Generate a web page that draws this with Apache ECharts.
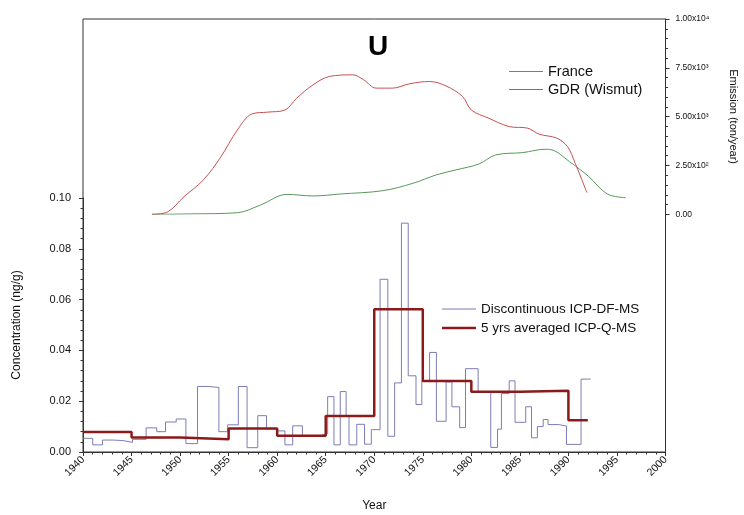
<!DOCTYPE html>
<html>
<head>
<meta charset="utf-8">
<script src="https://cdn.jsdelivr.net/npm/echarts@6/dist/echarts.min.js"></script>
<style>
html,body{margin:0;padding:0;background:#fff;}
#chart{width:744px;height:515px;}
</style>
</head>
<body>
<div id="chart"></div>
<script>
// ---- Data ----
// Discontinuous ICP-DF-MS: step segments [start year, concentration ng/g]
const discYears = [1940.0,1941.0,1942.0,1943.1,1944.1,1945.1,1946.5,1947.6,1948.5,1949.6,1950.6,1951.8,1952.9,1954.0,1954.9,1956.0,1956.9,1958.0,1958.9,1960.0,1960.8,1961.6,1962.6,1964.5,1965.2,1965.85,1966.5,1967.1,1967.4,1968.2,1969.0,1969.7,1970.6,1971.4,1972.1,1972.8,1973.5,1974.3,1974.9,1975.7,1976.4,1977.4,1978.0,1978.8,1979.4,1980.7,1982.0,1982.7,1983.1,1983.9,1984.5,1985.6,1986.2,1986.8,1987.4,1987.9,1989.0,1989.8,1991.3,1992.3];
const discValues = [0.0054,0.0028,0.0047,0.0045,0.0038,0.0050,0.0095,0.0080,0.0118,0.0130,0.0033,0.0258,0.0254,0.0080,0.0107,0.0258,0.0017,0.0143,0.0091,0.0083,0.0028,0.0103,0.0065,0.0072,0.0218,0.0028,0.0238,0.0142,0.0028,0.0109,0.0031,0.0088,0.0680,0.0062,0.0272,0.0901,0.0300,0.0187,0.0280,0.0392,0.0121,0.0276,0.0178,0.0096,0.0328,0.0236,0.0018,0.0090,0.0230,0.0280,0.0117,0.0178,0.0056,0.0100,0.0128,0.0108,0.0102,0.0030,0.0287,0.0287];
// 5 yrs averaged ICP-Q-MS
const avgYears = [1940,1945,1950,1955,1960,1965,1970,1975,1980,1985,1990,1992];
const avgValues = [0.0079,0.0057,0.0050,0.0093,0.0064,0.0142,0.0562,0.0280,0.0237,0.0241,0.0125,0.0125];
// Emissions (ton/year)
const franceYears = [1947.1,1951.1,1955.9,1958.3,1961.0,1963.7,1966.5,1970.9,1974.0,1976.4,1978.4,1980.8,1982.5,1985.3,1987.6,1988.3,1990.1,1992.1,1994.0,1995.9];
const franceValues = [0,20,80,480,1020,940,1040,1210,1590,2020,2270,2580,3040,3160,3330,3300,2700,1930,1040,850];
const gdrYears = [1947.1,1948.7,1950.4,1952.4,1954.2,1955.9,1957.4,1959.0,1960.8,1962.0,1963.7,1965.4,1967.8,1968.9,1970.2,1971.9,1973.6,1975.7,1977.4,1979.1,1980.0,1981.8,1983.9,1985.8,1987.0,1988.8,1989.9,1990.7,1991.9];
const gdrValues = [0,120,900,1760,2940,4320,5140,5230,5340,5940,6630,7060,7140,6890,6460,6460,6680,6800,6570,6030,5340,4920,4490,4410,4100,3900,3470,2610,1110];
// Tick labels
const concTickLabels = ['0.00','0.02','0.04','0.06','0.08','0.10'];
const emissionTickLabels = ['0.00','2.50x10\u00b2','5.00x10\u00b3','7.50x10\u00b3','1.00x10\u2074'];

const zip = (xs, ys) => xs.map((x, i) => [x, ys[i]]);

const chart = echarts.init(document.getElementById('chart'), null, {renderer: 'canvas'});
const FONT = 'Liberation Sans, Arial, sans-serif';
const L = 83, R = 78.5;
const C_FR = '#55995a', C_GDR = '#c45252', C_DISC = '#7c7cb8', C_AVG = '#8b1a1a';

function lineLegend(name, left, top, color, thick, fontSize) {
  return {
    data: [{name: name, icon: 'rect', itemStyle: {color: color}}],
    left: left, top: top, padding: 0, itemWidth: 34, itemHeight: thick, itemGap: 5,
    selectedMode: false,
    textStyle: {fontSize: fontSize, color: '#111', fontFamily: FONT}
  };
}

const option = {
  backgroundColor: '#fff',
  animation: false,
  textStyle: {fontFamily: FONT},
  title: {
    text: 'U', left: 373, top: 28, textAlign: 'center',
    textStyle: {fontSize: 28, fontWeight: 'bold', color: '#000', fontFamily: FONT}
  },
  grid: [
    {left: L, right: R, top: 198, bottom: 515 - 452, containLabel: false, outerBoundsMode: 'none'},
    {left: L, right: R, top: 19, height: 195.3, containLabel: false, outerBoundsMode: 'none'},
    {left: L, right: R, top: 19, bottom: 515 - 452, containLabel: false, outerBoundsMode: 'none',
     show: true, borderColor: '#333', borderWidth: 1, backgroundColor: 'transparent'}
  ],
  legend: [
    lineLegend('France', 509, 64, C_FR, 1, 14.5),
    lineLegend('GDR (Wismut)', 509, 82, C_GDR, 1, 14.5),
    lineLegend('Discontinuous ICP-DF-MS', 442, 302, C_DISC, 1, 13.5),
    lineLegend('5 yrs averaged ICP-Q-MS', 442, 321, C_AVG, 2.5, 13.5)
  ],
  xAxis: [
    {
      gridIndex: 0, type: 'value', min: 1940, max: 2000, interval: 5,
      name: 'Year', nameLocation: 'middle', nameGap: 48,
      nameTextStyle: {fontSize: 12, color: '#111', fontFamily: FONT},
      axisLine: {lineStyle: {color: '#333', width: 1}},
      axisTick: {inside: false, length: 4, lineStyle: {color: '#333'}},
      minorTick: {show: true, splitNumber: 5, length: 2.5, lineStyle: {color: '#333'}},
      splitLine: {show: false},
      axisLabel: {rotate: 45, fontSize: 10.5, color: '#111', margin: 6, fontFamily: FONT,
        formatter: v => String(v)}
    },
    {gridIndex: 1, type: 'value', min: 1940, max: 2000, show: false, splitLine: {show: false}},
    {gridIndex: 2, type: 'value', min: 0, max: 1, show: false, splitLine: {show: false}}
  ],
  yAxis: [
    {
      gridIndex: 0, type: 'value', min: 0, max: 0.1, interval: 0.02,
      name: 'Concentration (ng/g)', nameLocation: 'middle', nameGap: 60, nameRotate: 90,
      nameTextStyle: {fontSize: 12, color: '#111', fontFamily: FONT},
      axisLine: {show: true, lineStyle: {color: '#333', width: 1}},
      axisTick: {show: true, inside: false, length: 4, lineStyle: {color: '#333'}},
      minorTick: {show: true, splitNumber: 5, length: 2.5, lineStyle: {color: '#333'}},
      splitLine: {show: false},
      axisLabel: {fontSize: 11, color: '#111', margin: 12, fontFamily: FONT,
        formatter: v => concTickLabels[Math.round(v / 0.02)]}
    },
    {
      gridIndex: 1, type: 'value', position: 'right', min: 0, max: 10000, interval: 2500,
      name: 'Emission (ton/year)', nameLocation: 'middle', nameGap: 62, nameRotate: -90,
      nameTextStyle: {fontSize: 11, color: '#111', fontFamily: FONT},
      axisLine: {show: true, onZero: false, lineStyle: {color: '#333', width: 1}},
      axisTick: {show: true, inside: false, length: 4, lineStyle: {color: '#333'}},
      minorTick: {show: true, splitNumber: 5, length: 2.5, lineStyle: {color: '#333'}},
      splitLine: {show: false},
      axisLabel: {fontSize: 8.5, color: '#111', margin: 10, fontFamily: FONT,
        formatter: v => emissionTickLabels[Math.round(v / 2500)]}
    },
    {gridIndex: 2, type: 'value', min: 0, max: 1, show: false, splitLine: {show: false}}
  ],
  series: [
    {
      name: 'France', type: 'line', xAxisIndex: 1, yAxisIndex: 1,
      data: zip(franceYears, franceValues), smooth: 0.35, symbol: 'none',
      lineStyle: {color: C_FR, width: 1}, itemStyle: {color: C_FR}, z: 3
    },
    {
      name: 'GDR (Wismut)', type: 'line', xAxisIndex: 1, yAxisIndex: 1,
      data: zip(gdrYears, gdrValues), smooth: 0.35, symbol: 'none',
      lineStyle: {color: C_GDR, width: 1}, itemStyle: {color: C_GDR}, z: 3
    },
    {
      name: 'Discontinuous ICP-DF-MS', type: 'line', xAxisIndex: 0, yAxisIndex: 0,
      data: zip(discYears, discValues), step: 'end', symbol: 'none',
      lineStyle: {color: C_DISC, width: 1}, itemStyle: {color: C_DISC}, z: 3
    },
    {
      name: '5 yrs averaged ICP-Q-MS', type: 'line', xAxisIndex: 0, yAxisIndex: 0,
      data: zip(avgYears, avgValues), step: 'end', symbol: 'none',
      lineStyle: {color: C_AVG, width: 2.5}, itemStyle: {color: C_AVG}, z: 4
    }
  ]
};
chart.setOption(option);
</script>
</body>
</html>
